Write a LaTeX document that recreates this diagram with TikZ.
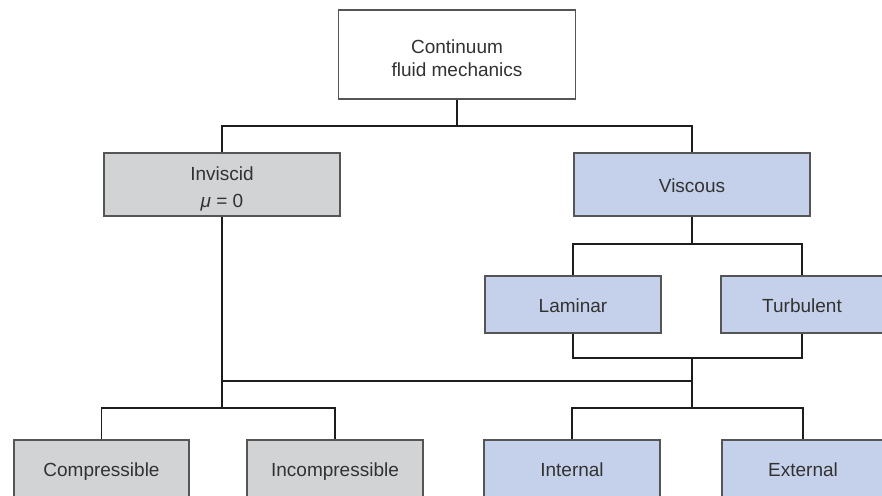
\documentclass[tikz,border=0pt]{standalone}
\usepackage{fontspec}
\setmainfont{Liberation Sans}
\definecolor{grayfill}{RGB}{210,211,213}
\definecolor{bluefill}{RGB}{197,209,234}
\definecolor{boxline}{RGB}{85,85,85}
\definecolor{txt}{RGB}{50,50,50}
\definecolor{conn}{RGB}{30,28,30}
\begin{document}
\begin{tikzpicture}[x=1pt,y=-1pt,
  box/.style={draw=boxline, line width=1.1pt, inner sep=0pt, align=center,
    text=txt, font=\fontsize{19}{23}\selectfont, text height=15pt, text depth=0pt},
  graybox/.style={box, fill=grayfill},
  bluebox/.style={box, fill=bluefill},
  whitebox/.style={box, fill=white},
  lbl/.style={align=center, text=txt, inner sep=0pt},
  link/.style={draw=conn, line width=1.8pt, line join=miter}]
\useasboundingbox (0,0) rectangle (882,495);
\clip (0,0) rectangle (882,495);
\node[whitebox, minimum width=237pt, minimum height=89pt,
  label={[lbl, font=\fontsize{19}{23}\selectfont, yshift=-4pt]center:Continuum\\fluid mechanics}] (top) at (457,54.5) {};
\node[graybox, minimum width=236pt, minimum height=63pt,
  label={[lbl, font=\fontsize{19}{27}\selectfont, yshift=-4pt]center:Inviscid\\{\itshape μ} = 0}] (inv) at (222,184.5) {};
\node[bluebox, minimum width=236pt, minimum height=63pt] (visc) at (692,184.5) {Viscous};
\node[bluebox, minimum width=176pt, minimum height=57pt] (lam) at (573,304.5) {Laminar};
\node[bluebox, minimum width=162pt, minimum height=57pt] (turb) at (802,304.5) {Turbulent};
\node[graybox, minimum width=175pt, minimum height=57pt] (comp) at (101.5,468.5) {Compressible};
\node[graybox, minimum width=176pt, minimum height=57pt] (incomp) at (335,468.5) {Incompressible};
\node[bluebox, minimum width=176pt, minimum height=57pt] (intl) at (572,468.5) {Internal};
\node[bluebox, minimum width=162pt, minimum height=57pt] (extl) at (803,468.5) {External};
\coordinate (h1) at (0,126);
\coordinate (h2) at (0,244);
\coordinate (h3) at (0,358);
\coordinate (h4) at (0,381);
\coordinate (h5) at (0,408);
\draw[link] (top.south) -- (top.south |- h1);
\draw[link] (inv.north) |- (visc.north |- h1) -- (visc.north);
\draw[link] (visc.south) -- (visc.south |- h2);
\draw[link] (lam.north) |- (turb.north |- h2) -- (turb.north);
\draw[link] (lam.south) |- (turb.south |- h3) -- (turb.south);
\draw[link] (visc.south |- h3) -- (visc.south |- h5);
\draw[link] (inv.south) -- (inv.south |- h5);
\draw[link] (inv.south |- h4) -- (visc.south |- h4);
\draw[link] (comp.north) |- (incomp.north |- h5) -- (incomp.north);
\draw[link] (intl.north) |- (extl.north |- h5) -- (extl.north);
\end{tikzpicture}
\end{document}
